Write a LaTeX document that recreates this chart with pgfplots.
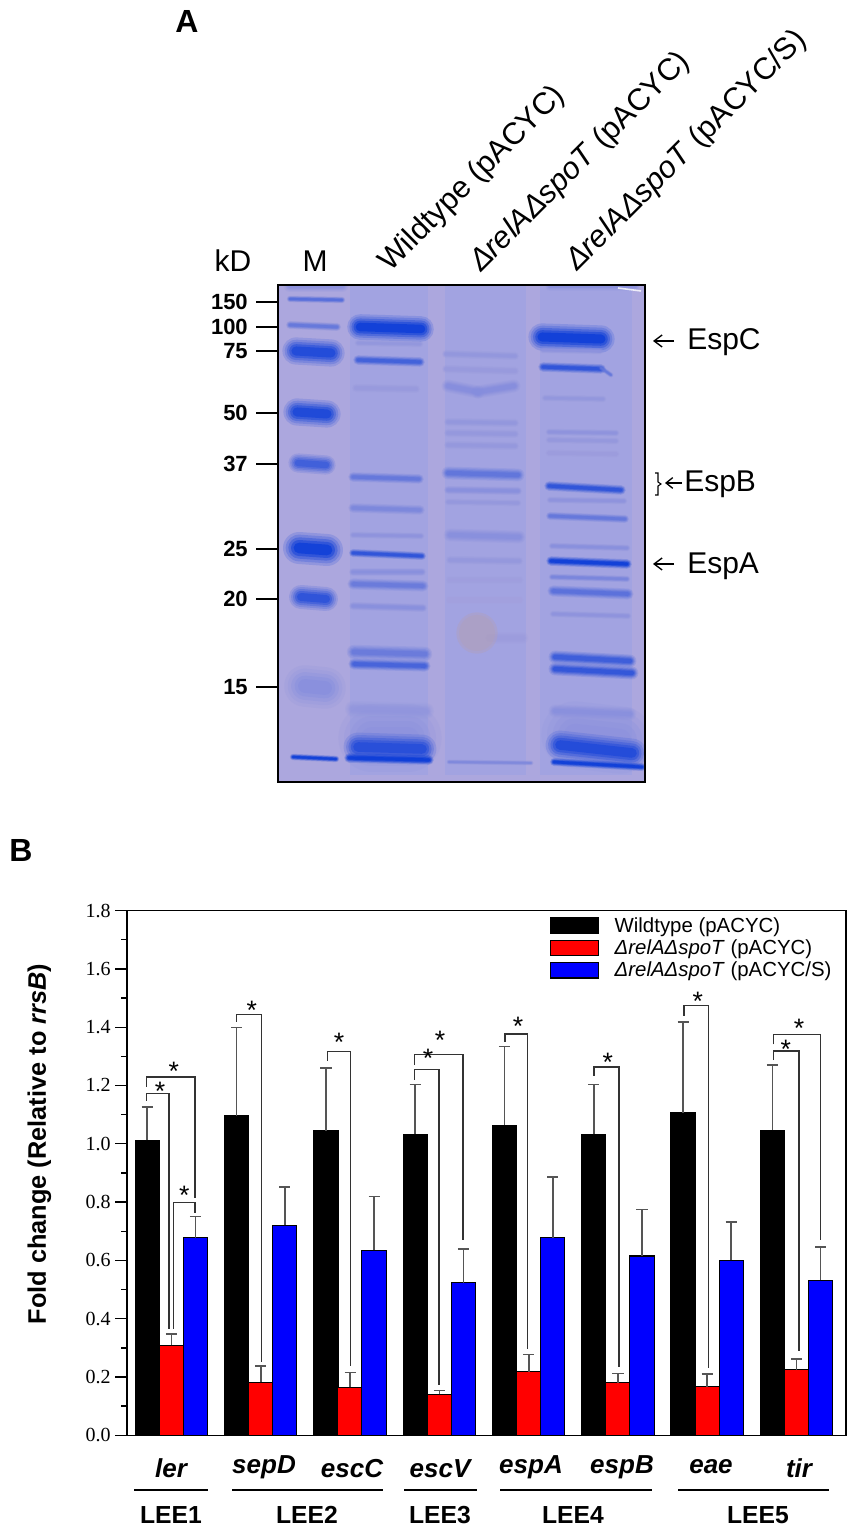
\documentclass[border=0pt]{standalone}
\usepackage{fontspec}
\usepackage{pgfplots}
\pgfplotsset{compat=1.18}
\usetikzlibrary{arrows.meta}
\setmainfont{Liberation Sans}
\newfontfamily\tickserif{Liberation Serif}
\newcommand{\fs}[1]{\fontsize{#1}{#1}\selectfont}

\definecolor{gelbg}{RGB}{172,167,222}
\definecolor{gellane}{RGB}{162,163,225}
\definecolor{gelblue}{RGB}{8,58,216}
\definecolor{errgray}{RGB}{85,85,85}
\definecolor{blob}{RGB}{176,160,188}

% one gel band: x1, x2, y1, y2 (image px), thickness px, strength in %
\newcommand{\band}[6]{%
  \addplot[no marks, draw=gelblue!#6!gelbg, line width=#5*1.2pt, opacity=0.16, line cap=round] coordinates {(#1,#3) (#2,#4)};
  \addplot[no marks, draw=gelblue!#6!gelbg, line width=#5*1.0pt, opacity=0.2, line cap=round] coordinates {(#1,#3) (#2,#4)};
  \addplot[no marks, draw=gelblue!#6!gelbg, line width=#5*0.8pt, opacity=0.3, line cap=round] coordinates {(#1,#3) (#2,#4)};
  \addplot[no marks, draw=gelblue!#6!gelbg, line width=#5*0.6pt, opacity=0.45, line cap=round] coordinates {(#1,#3) (#2,#4)};
  \addplot[no marks, draw=gelblue!#6!gelbg, line width=#5*0.4pt, opacity=0.7, line cap=round] coordinates {(#1,#3) (#2,#4)};
}
\newcommand{\lane}[5][gellane]{%
  \addplot[fill=#1, draw=none, forget plot] coordinates {(#2,#4) (#3,#4) (#3,#5) (#2,#5)} --cycle;
}
% significance bracket: x left, x right, left foot, top, right foot
\newcommand{\brk}[5]{%
  \addplot[no marks, forget plot, draw=black!80, line width=1pt] coordinates {(#1,#3) (#1,#4) (#2,#4) (#2,#5)};
}
\newcommand{\sig}[2]{\node[font=\fs{20}, anchor=base, inner sep=0pt, yshift=-10pt] at (axis cs:#1,#2) {*};}

\pgfplotsset{
  mybar/.style={ybar, bar width=24.3, bar shift=0pt, line width=0.8pt,
    error bars/.cd, y dir=plus, y explicit,
    error bar style={draw=errgray, line width=1.25pt},
    error mark options={rotate=90, draw=errgray, mark size=4.2pt, line width=1.1pt},
    /pgfplots/.cd,
    legend image code/.code={\draw[##1] (0pt,-5.7pt) rectangle (36pt,5.7pt); \path (46pt,0pt) -- (46pt,0pt);}},
}

\begin{document}
\begin{tikzpicture}
\path[use as bounding box] (0,0) rectangle (640.5pt,1149.75pt);

% === Panel A: gel ===
\begin{axis}[
  at={(208.5pt,563.25pt)}, anchor=south west,
  scale only axis, width=275.25pt, height=372.75pt,
  xmin=278, xmax=645, ymin=285, ymax=782, y dir=reverse,
  axis background/.style={fill=gelbg},
  axis line style={line width=1.6pt, black},
  xtick=\empty,
  ytick={302,327,351,413,464,549,599,687},
  yticklabels={150,100,75,50,37,25,20,15},
  ytick pos=left, tick align=outside,
  major tick length=16.5pt,
  tick style={black, line width=0.8pt},
  yticklabel style={font=\bfseries\fs{16.5}, inner xsep=6pt},
  /pgf/number format/assume math mode=true,
  clip=true, axis on top,
]
\lane{350}{428}{285}{775}
\lane{445}{526}{285}{775}
\lane{540}{632}{285}{775}
\band{290}{342}{286}{286}{8}{20}
\band{550}{635}{286}{286}{6}{20}
% corner streak
\addplot[no marks, draw=white, line width=1.2pt, opacity=0.8] coordinates {(618,288) (641,291)};
% marker lane
\band{290}{342}{299}{300}{4}{55}
\band{290}{337}{325}{327}{5}{45}
\band{296}{331}{351}{353}{17}{90}
\band{297}{327}{412}{414}{17}{92}
\band{298}{326}{463}{465}{12}{70}
\band{299}{327}{548}{550}{20}{100}
\band{301}{326}{597}{599}{15}{82}
\band{305}{325}{686}{688}{26}{22}
\band{293}{336}{757}{759}{4}{100}
% wildtype lane
\band{360}{421}{327}{329}{16}{100}
\band{358}{420}{343}{344}{4}{15}
\band{358}{420}{360}{362}{6}{68}
\band{356}{416}{388}{389}{5}{12}
\band{353}{419}{477}{479}{6}{45}
\band{353}{420}{508}{510}{6}{30}
\band{353}{421}{535}{536}{4}{18}
\band{353}{422}{553}{556}{5}{80}
\band{353}{422}{572}{572}{5}{22}
\band{353}{423}{584}{586}{7}{42}
\band{353}{423}{606}{608}{5}{22}
\band{354}{425}{652}{654}{9}{42}
\band{354}{425}{664}{666}{7}{65}
\band{353}{426}{709}{711}{10}{15}
\band{372}{408}{738}{738}{42}{18}
\band{358}{422}{747}{749}{18}{85}
\band{349}{429}{758}{760}{6}{100}
% mutant lane
\band{446}{515}{354}{356}{5}{15}
\band{446}{515}{369}{371}{5}{12}
\band{448}{478}{386}{392}{8}{24}
\band{478}{514}{392}{386}{8}{24}
\band{448}{515}{422}{423}{5}{15}
\band{448}{515}{433}{434}{5}{14}
\band{448}{515}{445}{446}{5}{14}
\band{448}{518}{473}{475}{8}{48}
\band{448}{518}{490}{491}{5}{22}
\band{448}{518}{502}{503}{4}{14}
\band{450}{519}{535}{537}{8}{22}
\band{450}{519}{560}{561}{5}{14}
\band{450}{519}{580}{580}{5}{8}
\band{450}{519}{600}{600}{5}{6}
\addplot[only marks, mark=*, mark size=15.5pt, mark options={draw=blob, draw opacity=0, fill=blob, fill opacity=0.45}] coordinates {(477,633)};
\addplot[only marks, mark=*, mark size=13.5pt, mark options={draw=blob, draw opacity=0, fill=blob, fill opacity=0.45}] coordinates {(477,633)};
\band{490}{522}{638}{638}{8}{10}
\band{449}{531}{762}{763}{3}{28}
% revertant lane
\band{542}{601}{337}{339}{17}{100}
\band{543}{600}{350}{351}{4}{18}
\band{543}{601}{367}{369}{6}{80}
\band{601}{611}{368}{375}{3}{45}
\band{545}{603}{398}{399}{4}{15}
\band{549}{616}{432}{433}{4}{18}
\band{549}{616}{440}{441}{4}{14}
\band{549}{616}{453}{454}{4}{10}
\band{549}{621}{486}{490}{6}{80}
\band{550}{624}{500}{501}{4}{18}
\band{550}{625}{516}{519}{5}{45}
\band{552}{627}{546}{548}{4}{22}
\band{551}{627}{561}{564}{6}{100}
\band{552}{627}{577}{579}{4}{32}
\band{553}{628}{591}{594}{7}{52}
\band{553}{628}{614}{616}{4}{18}
\band{555}{630}{657}{661}{8}{72}
\band{555}{632}{669}{673}{8}{78}
\band{555}{630}{711}{714}{8}{22}
\band{575}{620}{735}{740}{42}{18}
\band{560}{632}{745}{753}{18}{88}
\band{554}{642}{762}{767}{5}{100}
\end{axis}

% === Panel B: qPCR bars ===
\begin{axis}[
  at={(95.25pt,73.27pt)}, anchor=south west,
  scale only axis, width=539.25pt, height=393.53pt,
  xmin=127, xmax=846, ymin=0, ymax=1.8,
  xtick=\empty,
  minor xtick={127,217,307,397,486,576,666,756,846},
  ytick={0,0.2,...,1.8},
  minor y tick num=1,
  tick align=outside, xtick pos=bottom, ytick pos=left,
  major tick length=9pt, minor tick length=4.5pt,
  tick style={black, line width=1pt},
  axis line style={line width=1.2pt, black},
  yticklabel style={font=\tickserif\fs{15}, /pgf/number format/fixed,
    /pgf/number format/fixed zerofill, /pgf/number format/precision=1, inner xsep=3pt},
  /pgf/number format/assume math mode=true,
  ylabel={\bfseries Fold change (Relative to \textit{rrsB})},
  ylabel style={font=\fs{19}, at={(axis description cs:-0.122,0.555)}, anchor=center},
  clip=false,
  legend cell align=left,
  legend style={draw=none, fill=none, font=\fs{15.3}, at={(axis cs:550,1.785)}, anchor=north west,
    row sep=1.2pt, inner sep=0pt, nodes={inner sep=1.5pt}},
]
\addplot[mybar, fill=black, draw=black] coordinates {
  (147.3,1.012) +- (0,0.114)
  (236.6,1.097) +- (0,0.302)
  (325.9,1.044) +- (0,0.216)
  (415.2,1.032) +- (0,0.172)
  (504.5,1.064) +- (0,0.269)
  (593.8,1.032) +- (0,0.172)
  (683.1,1.107) +- (0,0.311)
  (772.4,1.047) +- (0,0.224)
};
\addlegendentry{Wildtype (pACYC)}
\addplot[mybar, fill=red, draw=black] coordinates {
  (171.5,0.309) +- (0,0.039)
  (260.8,0.182) +- (0,0.056)
  (350.1,0.164) +- (0,0.052)
  (439.4,0.140) +- (0,0.014)
  (528.7,0.218) +- (0,0.059)
  (618.0,0.180) +- (0,0.032)
  (707.3,0.166) +- (0,0.044)
  (796.6,0.225) +- (0,0.037)
};
\addlegendentry{\textit{ΔrelAΔspoT} (pACYC)}
\addplot[mybar, fill=blue, draw=black] coordinates {
  (195.5,0.677) +- (0,0.073)
  (284.8,0.720) +- (0,0.131)
  (374.1,0.635) +- (0,0.185)
  (463.4,0.523) +- (0,0.116)
  (552.7,0.678) +- (0,0.208)
  (642.0,0.615) +- (0,0.160)
  (731.3,0.600) +- (0,0.131)
  (820.6,0.532) +- (0,0.114)
};
\addlegendentry{\textit{ΔrelAΔspoT} (pACYC/S)}

\brk{146.7}{169.0}{1.147}{1.173}{0.365}
\brk{146.7}{195.0}{1.195}{1.229}{0.814}
\brk{173.5}{195.0}{0.365}{0.798}{0.764}
\brk{236.7}{261.3}{1.418}{1.444}{0.252}
\brk{327.3}{350.3}{1.285}{1.317}{0.238}
\brk{414.3}{439.0}{1.219}{1.254}{0.173}
\brk{414.3}{463.0}{1.270}{1.307}{0.670}
\brk{505.0}{527.7}{1.350}{1.377}{0.296}
\brk{594.0}{619.0}{1.233}{1.263}{0.235}
\brk{684.0}{708.7}{1.439}{1.474}{0.231}
\brk{773.3}{799.0}{1.287}{1.318}{0.290}
\brk{773.3}{820.3}{1.341}{1.374}{0.670}

\sig{160}{1.193}
\sig{173.7}{1.262}
\sig{184.3}{0.838}
\sig{251.7}{1.473}
\sig{339}{1.361}
\sig{428}{1.306}
\sig{440}{1.370}
\sig{518}{1.416}
\sig{607.7}{1.295}
\sig{697.7}{1.503}
\sig{785.7}{1.338}
\sig{799}{1.411}

% gene names and operon lines under the axis
\foreach \gx/\gy/\gname in {171/-0.114/ler, 264/-0.108/sepD, 352/-0.114/escC, 440/-0.114/escV,
    531/-0.108/espA, 622/-0.108/espB, 711/-0.108/eae, 799/-0.114/tir}{
  \edef\tmp{\noexpand\node[font=\noexpand\bfseries\noexpand\itshape\noexpand\fs{19.5}, anchor=center] at (axis cs:\gx,\gy) {\gname};}
  \tmp
}
\foreach \ga/\gb in {134/208, 232/383, 404/477, 500/652, 678/829}{
  \edef\tmp{\noexpand\draw[black, line width=1.1pt] (axis cs:\ga,-0.188) -- (axis cs:\gb,-0.188);}
  \tmp
}
\foreach \lx/\lname in {171/LEE1, 307/LEE2, 440/LEE3, 573/LEE4, 758/LEE5}{
  \edef\tmp{\noexpand\node[font=\noexpand\bfseries\noexpand\fs{18.5}, anchor=center] at (axis cs:\lx,-0.273) {\lname};}
  \tmp
}
\end{axis}

% === labels placed in image pixels ===
\begin{scope}[x=0.75pt, y=-0.75pt, shift={(0pt,1149.75pt)}]
\node[font=\bfseries\fs{24}] at (187,22) {A};
\node[font=\bfseries\fs{24}] at (21,851) {B};
\node[font=\fs{22.5}] at (233,261) {kD};
\node[font=\fs{22.5}] at (315,261) {M};
\node[font=\fs{23}, rotate=45, anchor=base west, inner sep=0pt] at (390,273) {Wildtype (pACYC)};
\node[font=\fs{23}, rotate=45, anchor=base west, inner sep=0pt] at (481,273) {\textit{ΔrelAΔspoT} (pACYC)};
\node[font=\fs{23}, rotate=45, anchor=base west, inner sep=0pt] at (577,272) {\textit{ΔrelAΔspoT} (pACYC/S)};
\node[font=\fs{22.5}, anchor=west, inner sep=0pt] at (687,342) {EspC};
\node[font=\fs{22.5}, anchor=west, inner sep=0pt] at (684,484) {EspB};
\node[font=\fs{22.5}, anchor=west, inner sep=0pt] at (687,566) {EspA};
\draw[-{Straight Barb[length=6pt,width=9pt]}, line width=1pt] (674,341) -- (653,341);
\draw[-{Straight Barb[length=5pt,width=8pt]}, line width=1pt] (682,483) -- (665,483);
\draw[-{Straight Barb[length=6pt,width=9pt]}, line width=1pt] (674,564) -- (653,564);
\draw[line width=0.8pt] (655,473) -- (658,473) -- (658,482) -- (661,484) -- (658,486) -- (658,495) -- (655,495);
\end{scope}
\end{tikzpicture}
\end{document}
